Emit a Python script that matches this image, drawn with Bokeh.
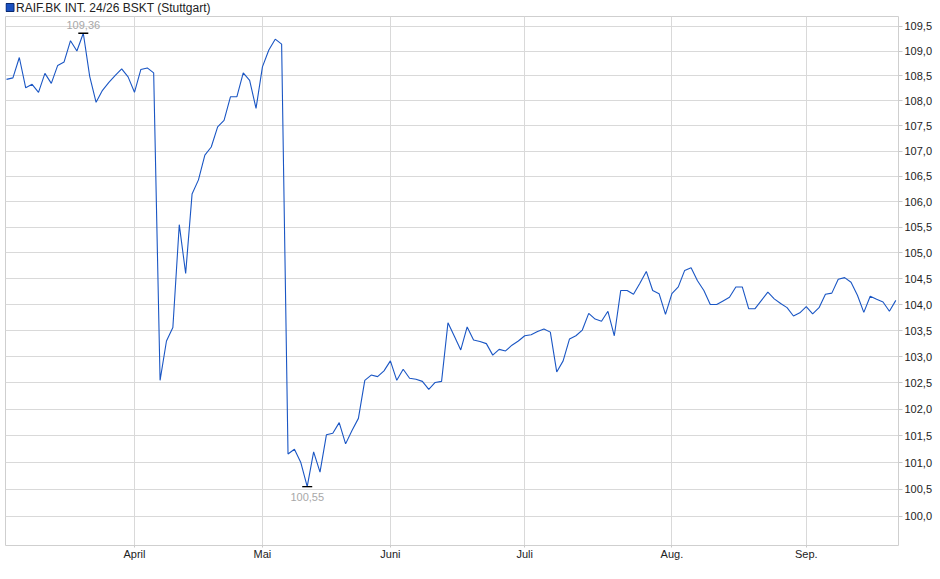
import numpy as np
from bokeh.plotting import figure
from bokeh.layouts import column
from bokeh.models import Range1d, FixedTicker, CustomJSTickFormatter
from bokeh.embed import file_html
from bokeh.resources import INLINE
from bokeh.core.properties import value

series_name = "RAIF.BK INT. 24/26 BSKT (Stuttgart)"

# daily closing prices (trading days, early March .. late September)
price = [
    108.43, 108.46, 108.87, 108.26, 108.33, 108.17, 108.55, 108.35, 108.71, 108.78,
    109.21, 109.00, 109.36, 108.49, 107.97, 108.21, 108.37, 108.51, 108.64, 108.48,
    108.17, 108.63, 108.66, 108.56, 102.55, 103.30, 103.56, 105.55, 104.60, 106.15,
    106.43, 106.92, 107.08, 107.48, 107.61, 108.08, 108.08, 108.56, 108.41, 107.85,
    108.68, 109.02, 109.24, 109.14, 101.16, 101.25, 101.00, 100.55, 101.20, 100.82,
    101.52, 101.55, 101.75, 101.35, 101.60, 101.83, 102.55, 102.65, 102.62, 102.73,
    102.92, 102.55, 102.76, 102.59, 102.57, 102.53, 102.38, 102.51, 102.53, 103.65,
    103.39, 103.13, 103.57, 103.32, 103.29, 103.25, 103.03, 103.14, 103.11, 103.22,
    103.30, 103.40, 103.42, 103.48, 103.53, 103.47, 102.71, 102.92, 103.34, 103.40,
    103.51, 103.83, 103.72, 103.68, 103.87, 103.40, 104.27, 104.27, 104.20, 104.41,
    104.64, 104.27, 104.21, 103.81, 104.21, 104.34, 104.66, 104.71, 104.46, 104.27,
    104.00, 104.00, 104.07, 104.14, 104.34, 104.34, 103.92, 103.92, 104.08, 104.24,
    104.11, 104.02, 103.94, 103.78, 103.84, 103.96, 103.82, 103.94, 104.20, 104.22,
    104.49, 104.52, 104.43, 104.18, 103.85, 104.16, 104.10, 104.05, 103.87, 104.08,
]

# trading-day index of the first day of each month, and its label
month_start = [20, 40, 60, 81, 104, 125]
month_labels = ["April", "Mai", "Juni", "Juli", "Aug.", "Sep."]

y_ticks = [100.0, 100.5, 101.0, 101.5, 102.0, 102.5, 103.0, 103.5, 104.0, 104.5,
           105.0, 105.5, 106.0, 106.5, 107.0, 107.5, 108.0, 108.5, 109.0, 109.5]

day = list(range(len(price)))

FONT = "Liberation Sans"
GRID = "#d9d9d9"
LINE_BLUE = "#1a56c4"
LEFT = 5
FRAME_W = 893
FRAME_H = 529
TOTAL_W = 932
HEAD_H = 15

# ---- header strip with the series legend (blue square + name) ----
# its frame is aligned with the main frame: range given in page pixels
head = figure(width=TOTAL_W, height=HEAD_H, output_backend="svg",
              toolbar_location=None, x_range=Range1d(LEFT, LEFT + FRAME_W),
              y_range=Range1d(0, HEAD_H), min_border=0)
head.axis.visible = False
head.grid.visible = False
head.outline_line_color = None
head.background_fill_color = "white"
head.border_fill_color = "white"
head.scatter([9.5], [8], marker="square", size=8, fill_color="#1a50c0",
             line_color="#0a2a70", line_width=1)
head.text([15.5], [8], text=[series_name], text_baseline="middle",
          text_align="left", text_font=value(FONT), text_font_size="12px",
          text_color="#222222")

# ---- main chart ----
p = figure(frame_width=FRAME_W, frame_height=FRAME_H, output_backend="svg",
           toolbar_location=None, y_axis_type="log", y_axis_location="right",
           x_range=Range1d(-0.16, 139.42), y_range=Range1d(99.46, 109.70),
           min_border_left=LEFT, min_border_right=30, min_border_top=1,
           min_border_bottom=18)

p.background_fill_color = "white"
p.border_fill_color = "white"
p.outline_line_color = "#cfcfcf"
p.outline_line_width = 1

# x axis
p.xaxis.ticker = FixedTicker(ticks=month_start)
p.xaxis.major_label_overrides = {t: lab for t, lab in zip(month_start, month_labels)}
p.xaxis.axis_line_color = None
p.xaxis.major_tick_in = 0
p.xaxis.major_tick_out = 2
p.xaxis.major_tick_line_color = "#c8c8c8"
p.xaxis.minor_tick_line_color = None
p.xaxis.major_label_standoff = 0
p.xaxis.major_label_text_font = FONT
p.xaxis.major_label_text_font_size = "11px"
p.xaxis.major_label_text_color = "#222222"
p.xgrid.ticker = FixedTicker(ticks=month_start)
p.xgrid.grid_line_color = GRID

# y axis (right, log scale)
p.yaxis.ticker = FixedTicker(ticks=y_ticks)
p.yaxis.formatter = CustomJSTickFormatter(code="return tick.toFixed(1).replace('.', ',');")
p.yaxis.axis_line_color = None
p.yaxis.major_tick_in = 0
p.yaxis.major_tick_out = 4
p.yaxis.major_tick_line_color = "#c8c8c8"
p.yaxis.minor_tick_line_color = None
p.yaxis.major_label_standoff = 2
p.yaxis.major_label_text_font = FONT
p.yaxis.major_label_text_font_size = "11px"
p.yaxis.major_label_text_color = "#222222"
p.ygrid.ticker = FixedTicker(ticks=y_ticks)
p.ygrid.grid_line_color = GRID

# price line
p.line(day, price, line_color=LINE_BLUE, line_width=1.1)

# high / low markers
imax = int(np.argmax(price))
imin = int(np.argmin(price))
fmt = lambda v: f"{v:.2f}".replace(".", ",")
p.scatter([imax, imin], [price[imax], price[imin]], marker="dash", size=10,
          line_color="black", line_width=1.3)
p.text([imax], [price[imax]], text=[fmt(price[imax])], text_align="center",
       text_baseline="bottom", y_offset=-4, text_font=value(FONT),
       text_font_size="11px", text_color="#a8a8a8")
p.text([imin], [price[imin]], text=[fmt(price[imin])], text_align="center",
       text_baseline="top", y_offset=6, text_font=value(FONT),
       text_font_size="11px", text_color="#a8a8a8")

layout = column(head, p, spacing=0)

open("out.html", "w").write(file_html(layout, INLINE))
